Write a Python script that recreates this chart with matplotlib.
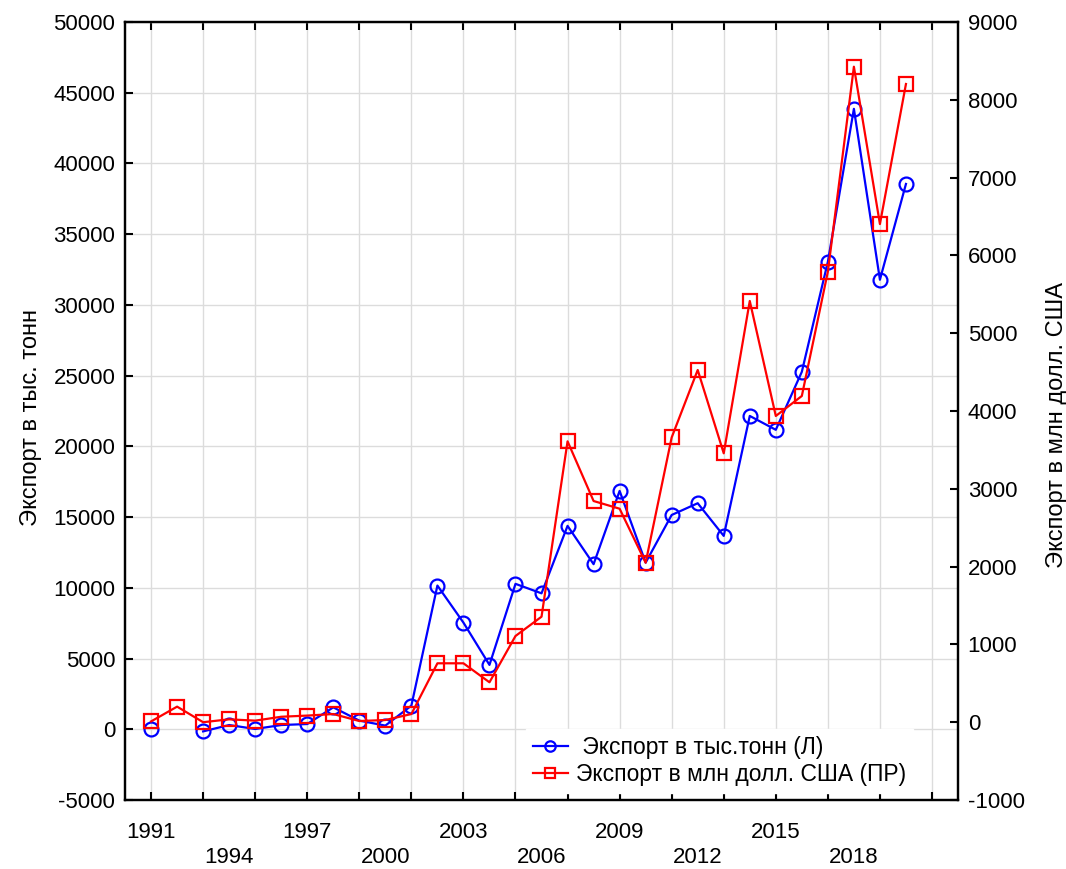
import numpy as np
import matplotlib
matplotlib.use("Agg")
import matplotlib.pyplot as plt

plt.rcParams['font.family'] = ['Liberation Sans', 'DejaVu Sans']
plt.rcParams['axes.unicode_minus'] = False

# years 1991-2020
years = np.arange(1991, 2021)
# export, thousand tonnes (left axis); 1992 missing
export_tonnes = [50, np.nan, -150, 300, 20, 300, 370, 1550, 610, 260,
                 1670, 10160, 7540, 4550, 10280, 9610, 14380, 11670, 16850, 11780,
                 15150, 15980, 13670, 22150, 21170, 25270, 33050, 43860, 31780, 38550]
# export, mln USD (right axis)
export_usd = [10, 200, 0, 37, 20, 70, 85, 105, 15, 28,
              105, 757, 757, 513, 1108, 1356, 3610, 2843, 2744, 2050,
              3660, 4527, 3456, 5414, 3936, 4193, 5790, 8425, 6403, 8203]

label_years = [1991, 1994, 1997, 2000, 2003, 2006, 2009, 2012, 2015, 2018]
tick_years = np.arange(1991, 2022, 2)

fig = plt.figure(figsize=(10.66, 8.69), dpi=100)
ax = fig.add_axes([0.1173, 0.0794, 0.7814, 0.8953])
ax2 = ax.twinx()

l1, = ax.plot(years, export_tonnes, color="blue", lw=1.6, marker="o", ms=10,
              mfc="none", mew=1.6, label=" Экспорт в тыс.тонн (Л)")
l2, = ax2.plot(years, export_usd, color="red", lw=1.6, marker="s", ms=10,
               mfc="none", mew=1.6, label="Экспорт в млн долл. США (ПР)")

ax.set_xlim(1990, 2022)
ax.set_ylim(-5000, 50000)
ax.set_yticks(np.arange(-5000, 50001, 5000))
ax2.set_ylim(-1000, 9000)
ax2.set_yticks(np.arange(-1000, 9001, 1000))

# labels every 3 years in two rows, tick marks + grid every 2 years
ax.xaxis.remove_overlapping_locs = False
ax.set_xticks(label_years)
ax.set_xticklabels([str(y) if i % 2 == 0 else "\n" + str(y)
                    for i, y in enumerate(label_years)], linespacing=1.25)
ax.set_xticks(tick_years, minor=True)
ax.tick_params(axis="x", which="major", length=0, pad=16, labelsize=16)
ax.tick_params(axis="x", which="minor", direction="in", length=6, width=1.5,
               top=True)
ax.tick_params(axis="y", direction="in", length=6, width=1.5, labelsize=16, pad=7)
ax2.tick_params(axis="y", direction="in", length=6, width=1.5, labelsize=16, pad=7)

ax.grid(True, which="minor", axis="x", color="#dcdcdc", lw=1)
ax.grid(True, which="major", axis="y", color="#dcdcdc", lw=1)
ax.grid(False, which="major", axis="x")
ax.set_axisbelow(True)

for a in (ax, ax2):
    for s in a.spines.values():
        s.set_linewidth(1.6)

ax.set_ylabel("Экспорт в тыс. тонн", fontsize=17, labelpad=8)
ax.yaxis.label.set_y(0.492)
ax2.set_ylabel("Экспорт в млн долл. США", fontsize=17, labelpad=15)
ax2.yaxis.label.set_y(0.482)

leg = ax2.legend(handles=[l1, l2], loc="lower left", bbox_to_anchor=(0.468, -0.006),
                 fontsize=16.5, frameon=True, framealpha=1, edgecolor="white",
                 fancybox=False, handlelength=1.5, handletextpad=0.35,
                 borderpad=0.3, labelspacing=0.2, markerscale=0.75)

fig.savefig("out.png", dpi=100)
